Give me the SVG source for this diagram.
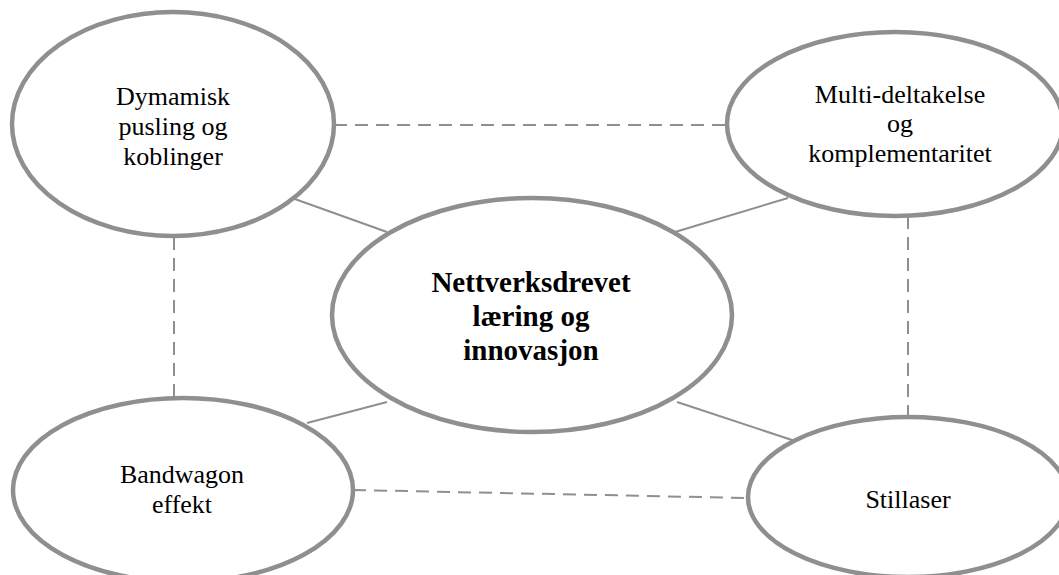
<svg xmlns="http://www.w3.org/2000/svg" width="1059" height="575" viewBox="0 0 1059 575">
  <style>
    .node { fill: #ffffff; stroke: #8f8f8f; stroke-width: 4.5; }
    .label { font-family: 'Liberation Serif', 'Times New Roman', Times, 'DejaVu Serif', serif; font-size: 26px; fill: #000000; text-anchor: middle; }
    .main { font-weight: bold; font-size: 29px; }
    .link { stroke: #8f8f8f; stroke-width: 2; fill: none; }
    .dash { stroke-dasharray: 13 8; }
  </style>
  <rect width="1059" height="575" fill="#ffffff"/>

  <!-- connectors: dashed between outer nodes, solid to the central node -->
  <g id="connectors">
    <line class="link dash" x1="334" y1="125" x2="728" y2="125"/>
    <line class="link dash" x1="174" y1="237" x2="174" y2="398"/>
    <line class="link dash" x1="908" y1="216" x2="908" y2="417"/>
    <line class="link dash" x1="353" y1="490" x2="748" y2="498"/>
    <line class="link" x1="292" y1="198" x2="387" y2="232"/>
    <line class="link" x1="788" y1="198" x2="675" y2="232"/>
    <line class="link" x1="307" y1="423" x2="387" y2="402"/>
    <line class="link" x1="677" y1="402" x2="795" y2="441"/>
  </g>

  <g id="node-dynamisk">
    <ellipse class="node" cx="173" cy="124" rx="161" ry="112"/>
    <text class="label" x="173" y="105">Dymamisk</text>
    <text class="label" x="173" y="135">pusling og</text>
    <text class="label" x="173" y="165">koblinger</text>
  </g>

  <g id="node-multi">
    <ellipse class="node" cx="895" cy="124" rx="168" ry="92"/>
    <text class="label" x="900" y="103">Multi-deltakelse</text>
    <text class="label" x="900" y="132">og</text>
    <text class="label" x="900" y="162">komplementaritet</text>
  </g>

  <g id="node-center">
    <ellipse class="node" cx="532" cy="315" rx="200" ry="117"/>
    <text class="label main" x="531" y="292">Nettverksdrevet</text>
    <text class="label main" x="531" y="326">læring og</text>
    <text class="label main" x="531" y="360">innovasjon</text>
  </g>

  <g id="node-bandwagon">
    <ellipse class="node" cx="183" cy="490" rx="170" ry="92"/>
    <text class="label" x="182" y="483">Bandwagon</text>
    <text class="label" x="182" y="513">effekt</text>
  </g>

  <g id="node-stillaser">
    <ellipse class="node" cx="908" cy="497" rx="160" ry="80"/>
    <text class="label" x="908" y="508">Stillaser</text>
  </g>
</svg>
